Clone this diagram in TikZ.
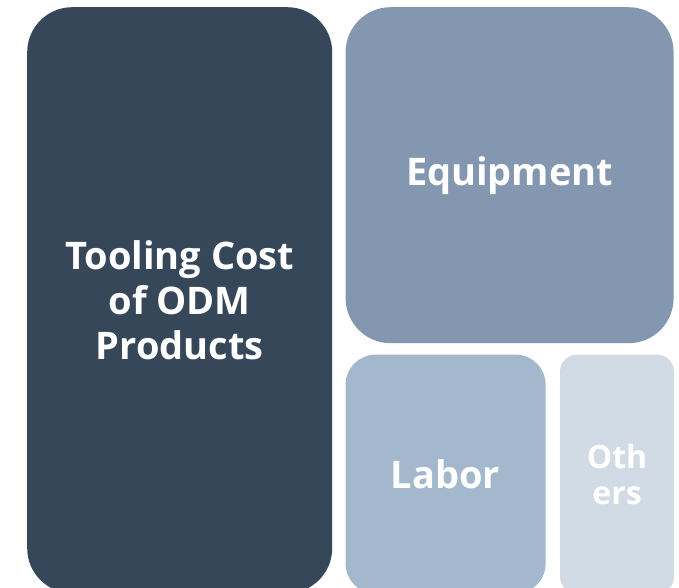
\documentclass[tikz,border=0pt]{standalone}
\usepackage{fontspec}
\setmainfont{Open Sans}
\usetikzlibrary{positioning}

\definecolor{toolcol}{HTML}{36475A}
\definecolor{equipcol}{HTML}{8497B0}
\definecolor{laborcol}{HTML}{A3B8CC}
\definecolor{othercol}{HTML}{D0DBE5}

\begin{document}
\begin{tikzpicture}[x=1pt, y=-1pt,
  tile/.style={inner sep=0pt, align=center, text=white,
    font=\bfseries\fontsize{38}{45}\selectfont}]
\useasboundingbox (0,0) rectangle (679,588);
\clip (0,0) rectangle (679,588);

\node[tile, anchor=north west, fill=toolcol, minimum width=305pt, minimum height=586pt,
  rounded corners=45pt] (tool) at (27,7) {Tooling Cost\\of ODM\\Products};
\node[tile, right=13pt of tool.north east, anchor=north west, fill=equipcol,
  minimum width=328pt, minimum height=336pt, rounded corners=45pt] (equip) {Equipment};
\node[tile, below=11pt of equip.south west, anchor=north west, fill=laborcol,
  minimum width=200pt, minimum height=239pt, rounded corners=30pt] (labor) {Labor};
\node[tile, right=14pt of labor.north east, anchor=north west, fill=othercol,
  minimum width=114pt, minimum height=239pt, rounded corners=17pt,
  font=\bfseries\fontsize{32}{36}\selectfont] (others) {Oth\\ers};
\end{tikzpicture}
\end{document}
